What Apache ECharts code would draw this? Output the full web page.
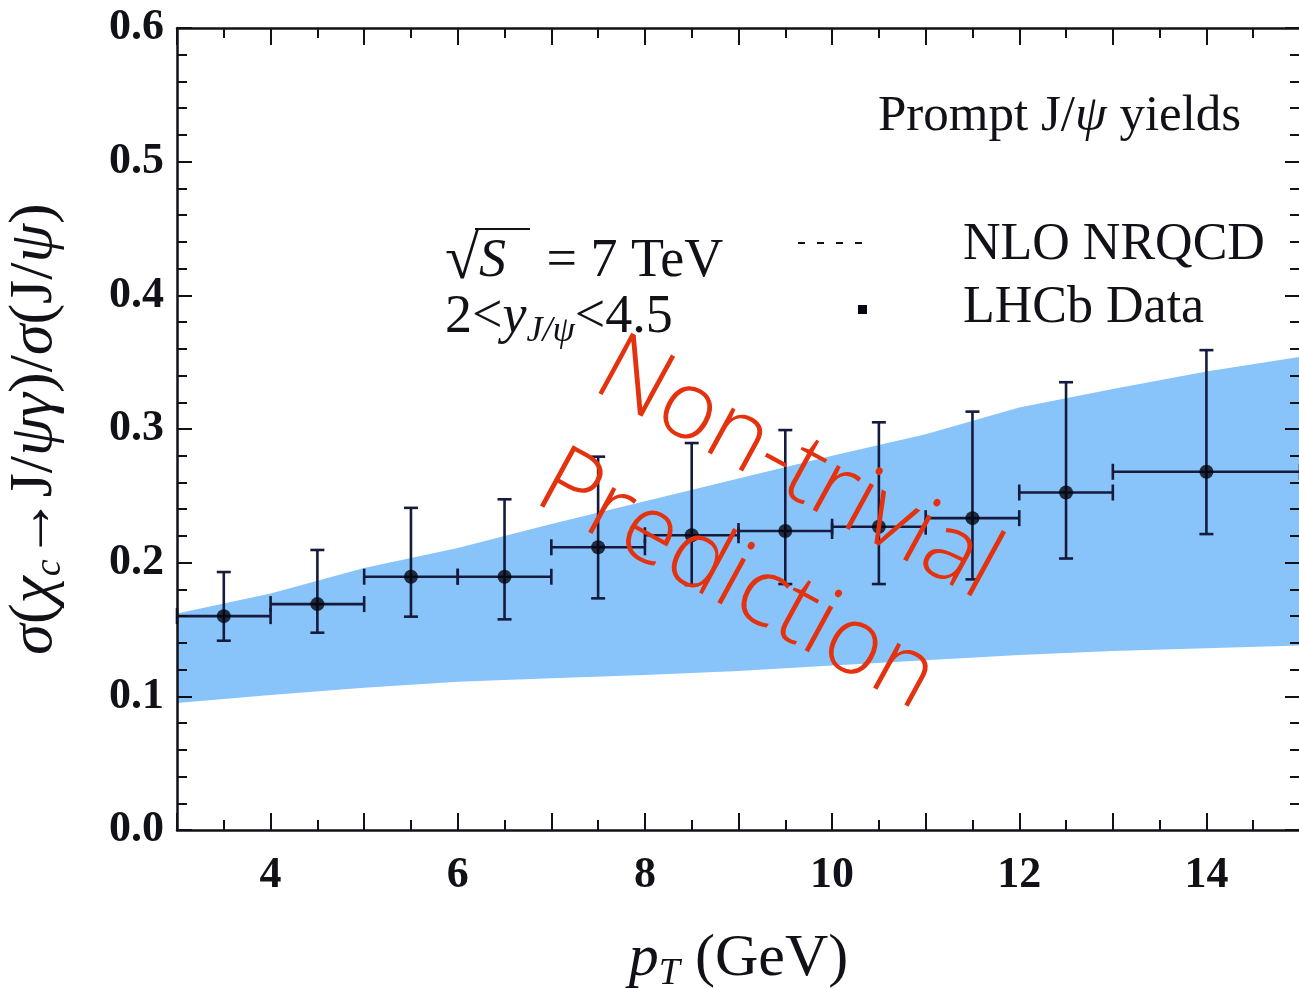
<!DOCTYPE html>
<html>
<head>
<meta charset="utf-8">
<script src="https://cdn.jsdelivr.net/npm/echarts@6/dist/echarts.min.js"></script>
<style>
  html, body { margin: 0; padding: 0; background: #fff; }
  #main { width: 1299px; height: 989px; }
</style>
</head>
<body>
<div id="main"></div>
<script>
// LHCb bins (pT, GeV) and measured ratio with errors
var binLo = [3, 4, 5, 6, 7, 8, 9, 10, 11, 12, 13];
var binHi = [4, 5, 6, 7, 8, 9, 10, 11, 12, 13, 15];
var ptCenter = [3.5, 4.5, 5.5, 6.5, 7.5, 8.5, 9.5, 10.5, 11.5, 12.5, 14];
var ratio = [0.160, 0.169, 0.1895, 0.1895, 0.2115, 0.2205, 0.2237, 0.2269, 0.2333, 0.2525, 0.268];
var errLo = [0.1416, 0.1476, 0.1596, 0.1576, 0.1733, 0.1833, 0.184, 0.184, 0.1875, 0.2031, 0.2214];
var errHi = [0.193, 0.2095, 0.241, 0.2474, 0.2793, 0.2895, 0.2992, 0.305, 0.313, 0.335, 0.359];

// NLO NRQCD band
var bandPt = [3, 4, 5, 6, 7, 8, 9, 10, 11, 12, 13, 14, 15];
var bandLow = [0.095, 0.101, 0.1065, 0.111, 0.1135, 0.116, 0.119, 0.123, 0.127, 0.131, 0.134, 0.136, 0.138];
var bandHigh = [0.162, 0.177, 0.196, 0.211, 0.229, 0.246, 0.263, 0.280, 0.296, 0.316, 0.330, 0.343, 0.354];

var xLabels = [4, 6, 8, 10, 12, 14];

var serif = "'Liberation Serif', 'Times New Roman', serif";
var ink = '#111118';
var barColor = '#161a3c';

var bandData = bandPt.map(function (x, i) { return [x, bandLow[i], bandHigh[i]]; });
var pointData = ptCenter.map(function (x, i) { return [x, ratio[i]]; });
var errData = ptCenter.map(function (x, i) {
    return [x, ratio[i], errLo[i], errHi[i], binLo[i], binHi[i]];
});

var myChart = echarts.init(document.getElementById('main'));

function xAxisBase(pos, showLabel) {
    return {
        type: 'value',
        position: pos,
        min: 3,
        max: 15,
        interval: 1,
        z: 10,
        axisLine: { onZero: false, lineStyle: { color: ink, width: 2.5 } },
        axisTick: { inside: true, length: 17, lineStyle: { color: ink, width: 2 } },
        minorTick: { show: true, splitNumber: 2, length: 10, lineStyle: { color: ink, width: 2 } },
        splitLine: { show: false },
        axisLabel: {
            show: showLabel,
            margin: 24,
            fontFamily: serif,
            fontWeight: 'bold',
            fontSize: 44,
            color: ink,
            formatter: function (v) {
                var r = Math.round(v);
                return xLabels.indexOf(r) >= 0 && Math.abs(v - r) < 1e-6 ? String(r) : '';
            }
        }
    };
}

function yAxisBase(pos, showLabel) {
    return {
        type: 'value',
        position: pos,
        min: 0,
        max: 0.6,
        interval: 0.1,
        z: 10,
        axisLine: { onZero: false, lineStyle: { color: ink, width: 2.5 } },
        axisTick: { inside: true, length: 15, lineStyle: { color: ink, width: 2 } },
        minorTick: { show: true, splitNumber: 5, length: 10, lineStyle: { color: ink, width: 2 } },
        splitLine: { show: false },
        axisLabel: {
            show: showLabel,
            margin: 13,
            fontFamily: serif,
            fontWeight: 'bold',
            fontSize: 44,
            color: ink,
            formatter: function (v) { return v.toFixed(1); }
        }
    };
}

var xBottom = xAxisBase('bottom', true);
xBottom.name = '{i|p}{sub|T} (GeV)';
xBottom.nameLocation = 'middle';
xBottom.nameGap = 95;
xBottom.nameTextStyle = {
    fontFamily: serif, fontSize: 60, color: ink,
    rich: {
        i: { fontFamily: serif, fontSize: 60, fontStyle: 'italic', color: ink },
        sub: { fontFamily: serif, fontSize: 38, fontStyle: 'italic', color: ink, padding: [30, 0, 0, 0] }
    }
};

var yLeft = yAxisBase('left', true);
yLeft.name = '{i|σ}({i|χ}{sub|c}→J/{i|ψγ})/{i|σ}(J/{i|ψ})';
yLeft.nameLocation = 'middle';
yLeft.nameGap = 108;
yLeft.nameTextStyle = {
    fontFamily: serif, fontSize: 62, color: ink,
    rich: {
        i: { fontFamily: serif, fontSize: 62, fontStyle: 'italic', color: ink },
        sub: { fontFamily: serif, fontSize: 38, fontStyle: 'italic', color: ink, padding: [30, 0, 0, 0] }
    }
};

var option = {
    backgroundColor: '#fff',
    animation: false,
    grid: { left: 177, top: 28, width: 1123, height: 802, containLabel: false, outerBoundsMode: 'none' },
    xAxis: [xBottom, xAxisBase('top', false)],
    yAxis: [yLeft, yAxisBase('right', false)],
    series: [
        {
            name: 'NLO NRQCD',
            type: 'custom',
            data: bandData,
            encode: { x: 0, y: [1, 2] },
            z: 1,
            renderItem: function (params, api) {
                if (params.dataIndex !== 0) return null;
                var pts = [];
                for (var i = 0; i < bandPt.length; i++) pts.push(api.coord([bandPt[i], bandHigh[i]]));
                for (var j = bandPt.length - 1; j >= 0; j--) pts.push(api.coord([bandPt[j], bandLow[j]]));
                return {
                    type: 'polygon',
                    shape: { points: pts },
                    style: { fill: '#88c4f9' }
                };
            }
        },
        {
            name: 'errors',
            type: 'custom',
            data: errData,
            encode: { x: 0, y: 1 },
            z: 3,
            renderItem: function (params, api) {
                var c = api.coord([api.value(0), api.value(1)]);
                var l = api.coord([api.value(4), api.value(1)]);
                var r = api.coord([api.value(5), api.value(1)]);
                var t = api.coord([api.value(0), api.value(3)]);
                var b = api.coord([api.value(0), api.value(2)]);
                var st = { stroke: barColor, lineWidth: 2.6 };
                function seg(x1, y1, x2, y2) {
                    return { type: 'line', shape: { x1: x1, y1: y1, x2: x2, y2: y2 }, style: st };
                }
                return {
                    type: 'group',
                    children: [
                        seg(l[0], c[1], r[0], c[1]),
                        seg(l[0], c[1] - 8, l[0], c[1] + 8),
                        seg(r[0], c[1] - 8, r[0], c[1] + 8),
                        seg(c[0], t[1], c[0], b[1]),
                        seg(c[0] - 7, t[1], c[0] + 7, t[1]),
                        seg(c[0] - 7, b[1], c[0] + 7, b[1])
                    ]
                };
            }
        },
        {
            name: 'LHCb Data',
            type: 'scatter',
            data: pointData,
            symbol: 'circle',
            symbolSize: 14,
            itemStyle: { color: '#05050f' },
            z: 4
        }
    ],
    graphic: [
        {
            type: 'text', x: 878, y: 117, z: 10,
            style: {
                text: 'Prompt J/{i|ψ} yields',
                fontFamily: serif, fontSize: 51, fill: ink,
                verticalAlign: 'middle',
                rich: { i: { fontFamily: serif, fontSize: 51, fontStyle: 'italic', fill: ink } }
            }
        },
        {
            type: 'line', z: 10,
            shape: { x1: 798, y1: 243, x2: 864, y2: 243 },
            style: { stroke: ink, lineWidth: 2, lineDash: [7, 12] }
        },
        {
            type: 'text', x: 963, y: 245, z: 10,
            style: { text: 'NLO NRQCD', fontFamily: serif, fontSize: 52, fill: ink, verticalAlign: 'middle' }
        },
        {
            type: 'rect', z: 10,
            shape: { x: 858, y: 305, width: 9, height: 9 },
            style: { fill: '#05050f' }
        },
        {
            type: 'text', x: 963, y: 308, z: 10,
            style: { text: 'LHCb Data', fontFamily: serif, fontSize: 52, fill: ink, verticalAlign: 'middle' }
        },
        {
            type: 'text', x: 445, y: 262, z: 10,
            style: {
                text: '{r|√}{s|S}   = 7 TeV',
                fontFamily: serif, fontSize: 54, fill: ink, verticalAlign: 'middle',
                rich: {
                    r: { fontFamily: serif, fontSize: 62, fill: ink },
                    s: { fontFamily: serif, fontSize: 54, fontStyle: 'italic', fill: ink }
                }
            }
        },
        {
            type: 'line', z: 10,
            shape: { x1: 475, y1: 229, x2: 530, y2: 229 },
            style: { stroke: ink, lineWidth: 2 }
        },
        {
            type: 'text', x: 445, y: 318, z: 10,
            style: {
                text: '2<{i|y}{sub|J/ψ}<4.5',
                fontFamily: serif, fontSize: 54, fill: ink, verticalAlign: 'middle',
                rich: {
                    i: { fontFamily: serif, fontSize: 54, fontStyle: 'italic', fill: ink },
                    sub: { fontFamily: serif, fontSize: 36, fontStyle: 'italic', fill: ink, padding: [28, 0, 0, 0] }
                }
            }
        },
        {
            type: 'text', x: 767, y: 526, rotation: -0.5, z: 20,
            style: {
                text: 'Non-trivial\nPrediction',
                fontFamily: "'Open Sans', Lato, sans-serif",
                fontWeight: 300,
                fontSize: 96,
                lineHeight: 127,
                fill: '#e4320f',
                align: 'center',
                verticalAlign: 'middle'
            }
        }
    ]
};

myChart.setOption(option);
</script>
</body>
</html>
